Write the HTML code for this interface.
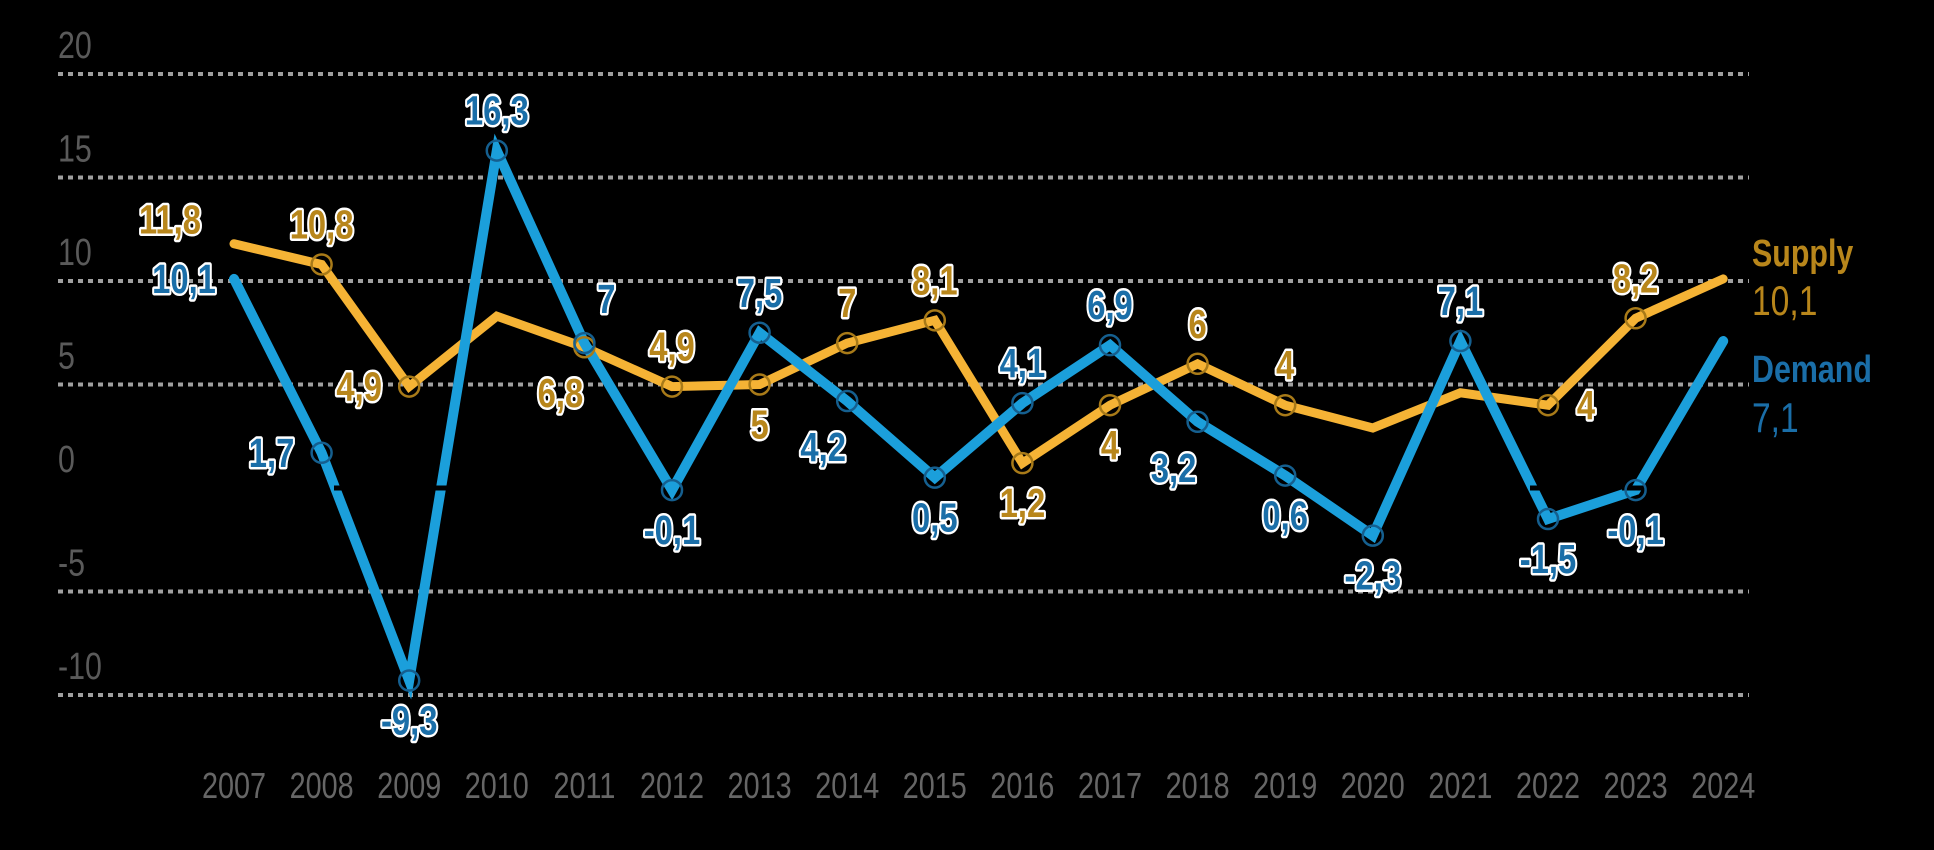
<!DOCTYPE html>
<html><head><meta charset="utf-8"><style>
html,body{margin:0;padding:0;background:#000;}
svg{display:block;}
text{font-family:"Liberation Sans Narrow","Liberation Sans",sans-serif;}
.lbl{font-weight:bold;font-size:41px;stroke:#fff;stroke-width:5px;paint-order:stroke;stroke-linejoin:round;text-anchor:middle;}
</style></head><body>
<svg id="chart" width="1934" height="850" viewBox="0 0 1934 850"></svg>
<script>
const years = ["2007","2008","2009","2010","2011","2012","2013","2014","2015","2016","2017","2018","2019","2020","2021","2022","2023","2024"];
const supply = [11.8,10.8,4.9,8.3,6.8,4.9,5,7,8.1,1.2,4,6,4,2.9,4.6,4,8.2,10.1];
const demand = [10.1,1.7,-9.3,16.3,7,-0.1,7.5,4.2,0.5,4.1,6.9,3.2,0.6,-2.3,7.1,-1.5,-0.1,7.1];
const supplyLabels = ["11,8","10,8","4,9","","6,8","4,9","5","7","8,1","1,2","4","6","4","","","4","8,2",""];
const demandLabels = ["10,1","1,7","-9,3","16,3","7","-0,1","7,5","4,2","0,5","4,1","6,9","3,2","0,6","-2,3","7,1","-1,5","-0,1",""];
const supplyPos = ["ul","a","l","","bl","a","b","a","a","b","b","a","a","","","r","a",""];
const demandPos = ["l","l","b","a","ar","b","a","bl","b","a","a","bl","b","b","a","b","b",""];
const yTicks = [20,15,10,5,0,-5,-10];

const NS="http://www.w3.org/2000/svg";
const svg=document.getElementById('chart');
const X0=234, XSTEP=87.6, SX=0.8;
function xs(i){return X0+i*XSTEP;}
function ys(v){return 488-v*20.7;}
function mk(tag,attrs,parent){const e=document.createElementNS(NS,tag);for(const k in attrs)e.setAttribute(k,attrs[k]);(parent||svg).appendChild(e);return e;}
function txt(x,y,attrs){const g=mk('g',{transform:'translate('+x+','+y+') scale('+SX+',1)'});return mk('text',Object.assign({x:0,y:0},attrs),g);}

yTicks.forEach(t=>{
  if(t!==0){
    const g=mk('line',{x1:58,x2:1749,y1:ys(t),y2:ys(t),stroke:'#a0a0a0','stroke-width':4,'stroke-dasharray':'5 5'});
    
    
  }
  const tx=txt(58,ys(t)-16,{fill:'#5a5a5a','font-size':38});
  tx.textContent=String(t);
  
  
});
years.forEach((y,i)=>{
  const tx=txt(xs(i),798,{fill:'#666','font-size':36,'text-anchor':'middle'});
  tx.textContent=y;
  
  
});
function line(vals,color,w,name){
  const p=mk('polyline',{points:vals.map((v,i)=>xs(i)+','+ys(v)).join(' '),fill:'none',stroke:color,'stroke-width':w,'stroke-linejoin':'miter','stroke-linecap':'round'});
  
  
}
line(supply,'#f5b335',9,'supply-line');
line(demand,'#1b9fdb',10,'demand-line');
const z=mk('line',{x1:58,x2:1749,y1:ys(0),y2:ys(0),stroke:'#000','stroke-width':5,'stroke-dasharray':'22 70'});



const offs={a:[0,-26],b:[0,54],l:[-50,14],r:[38,14],ul:[-64,-10],bl:[-24,60],ar:[22,-30]};
function marks(vals,labels,pos,circ,fillc,name){
  vals.forEach((v,i)=>{
    if(!labels[i])return;
    if(i>0){
      const c=mk('circle',{cx:xs(i),cy:ys(v),r:10,fill:'none',stroke:circ,'stroke-width':2.5});
      
      
    }
    const o=offs[pos[i]];
    const t=txt(xs(i)+o[0],ys(v)+o[1],{fill:fillc,class:'lbl'});
    t.textContent=labels[i];
    
    
  });
}
marks(supply,supplyLabels,supplyPos,'#a87a18','#b8861b','supply');
marks(demand,demandLabels,demandPos,'#155f8f','#1a6ea8','demand');

function leg(s,y,color,bold,name){
  const t=txt(1752,y,{fill:color,'font-size':bold?38:42,'font-weight':bold?'bold':'normal'});
  t.textContent=s;
  
  
}
leg('Supply',266,'#b8861b',true,'legend-supply');
leg('10,1',315,'#b8861b',false,'legend-supply-value');
leg('Demand',382,'#1a6ea8',true,'legend-demand');
leg('7,1',432,'#1a6ea8',false,'legend-demand-value');
</script>
</body></html>
